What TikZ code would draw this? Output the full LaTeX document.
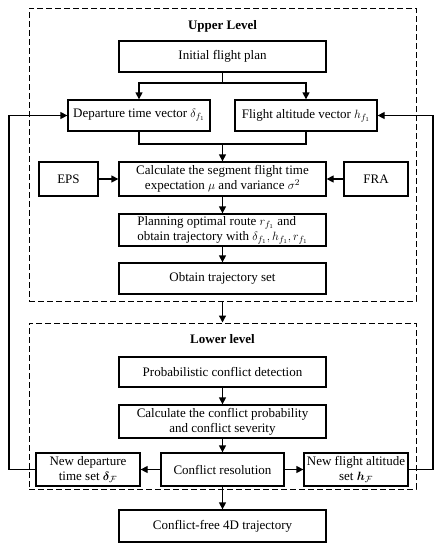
\documentclass[tikz,border=0pt]{standalone}
\usepackage{fontspec}
\setmainfont{Liberation Serif}
\usepackage{bm}
\usetikzlibrary{arrows.meta}
\begin{document}
\begin{tikzpicture}[x=1pt,y=-1pt,
  box/.style={draw,line width=1.3pt,inner sep=1pt,align=center,font=\fontsize{13}{15}\selectfont},
  arr/.style={line width=1.3pt,-{Triangle[length=7pt,width=7pt]}},
  ln/.style={line width=1.3pt},
  region/.style={draw,line width=1pt,dash pattern=on 6pt off 3pt},
  ttl/.style={font=\fontsize{13}{15}\selectfont\bfseries}
]
\useasboundingbox (0,0) rectangle (441,550);
% regions
\node[region,minimum width=387pt,minimum height=293pt] (upper) at (222.5,154.5) {};
\node[region,minimum width=387pt,minimum height=166pt] (lower) at (222.5,406) {};
\node[ttl] (ut) at (222.5,26) {Upper Level};
\node[ttl] (lt) at (222.5,339) {Lower level};
% upper boxes
\node[box,minimum width=207pt,minimum height=31pt] (init) at (222.5,56.5) {Initial flight plan};
\node[box,minimum width=142pt,minimum height=31pt] (dep) at (139,115.5) {Departure time vector $\delta_{f_1}$};
\node[box,minimum width=142pt,minimum height=31pt] (alt) at (306,115.5) {Flight altitude vector $h_{f_1}$};
\node[box,minimum width=59pt,minimum height=34pt] (eps) at (68.5,179) {EPS};
\node[box,minimum width=207pt,minimum height=34pt] (calc) at (222.5,179) {Calculate the segment flight time\\expectation $\mu$ and variance $\sigma^2$};
\node[box,minimum width=64pt,minimum height=34pt] (fra) at (376,179) {FRA};
\node[box,minimum width=207pt,minimum height=32pt,align=left] (plan) at (222.5,230) {Planning optimal route $r_{f_1}$ and\\obtain trajectory with $\delta_{f_1}, h_{f_1}, r_{f_1}$};
\node[box,minimum width=207pt,minimum height=31pt] (obt) at (222.5,278.5) {Obtain trajectory set};
% lower boxes
\node[box,minimum width=207pt,minimum height=30pt] (prob) at (222.5,372) {Probabilistic conflict detection};
\node[box,minimum width=207pt,minimum height=33pt] (cc) at (222.5,421.5) {Calculate the conflict probability\\and conflict severity};
\node[box,minimum width=123pt,minimum height=33pt] (cr) at (222.5,469.5) {Conflict resolution};
\node[box,minimum width=104pt,minimum height=33pt] (nd) at (88,469.5) {New departure\\time set $\bm{\delta}_{\mathcal{F}}$};
\node[box,minimum width=104pt,minimum height=33pt] (na) at (356,469.5) {New flight altitude\\set $\bm{h}_{\mathcal{F}}$};
\node[box,minimum width=207pt,minimum height=32pt] (cf) at (222.5,526) {Conflict-free 4D trajectory};
% connectors
\coordinate (j1) at (222.5,83);
\coordinate (j2) at (222.5,144);
\coordinate (fl) at (9,0);
\coordinate (fr) at (433,0);
\draw[ln] (init.south) -- (j1);
\draw[arr] (j1) -| (dep.north);
\draw[arr] (j1) -| (alt.north);
\draw[ln] (dep.south) |- (j2);
\draw[ln] (alt.south) |- (j2);
\draw[arr] (j2) -- (calc.north);
\draw[arr] (eps.east) -- (calc.west);
\draw[arr] (fra.west) -- (calc.east);
\draw[arr] (calc.south) -- (plan.north);
\draw[arr] (plan.south) -- (obt.north);
\draw[arr] (upper.south) -- (lower.north);
\draw[arr] (prob.south) -- (cc.north);
\draw[arr] (cc.south) -- (cr.north);
\draw[arr] (cr.west) -- (nd.east);
\draw[arr] (cr.east) -- (na.west);
\draw[arr] (cr.south) -- (cf.north);
\draw[arr] (nd.west) -- (nd.west -| fl) |- (dep.west);
\draw[arr] (na.east) -- (na.east -| fr) |- (alt.east);
\end{tikzpicture}
\end{document}
